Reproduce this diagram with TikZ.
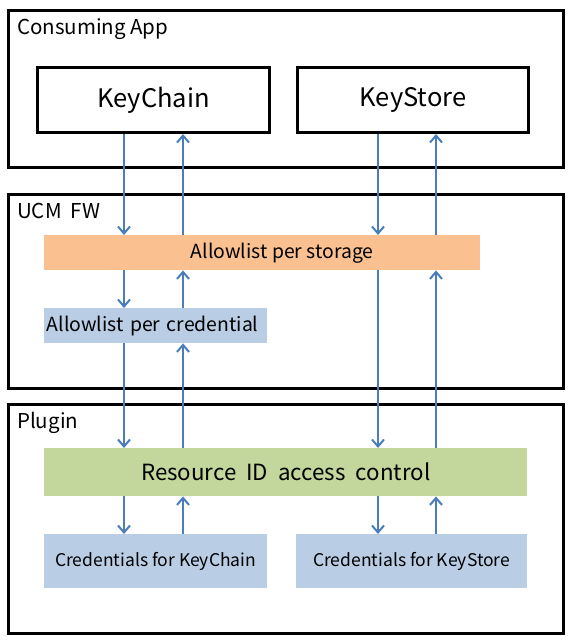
\documentclass[tikz,border=0pt]{standalone}
\usepackage{fontspec}
\setmainfont{Noto Sans CJK KR}
\usetikzlibrary{arrows,arrows.meta,shapes}
\definecolor{storagefill}{HTML}{FAC090}
\definecolor{credfill}{HTML}{B9CDE5}
\definecolor{ridfill}{HTML}{C3D69B}
\definecolor{flowblue}{HTML}{4A7EBB}
\tikzset{
  layer/.style = {draw=black, line width=3pt, anchor=north west, inner sep=0pt},
  layerlabel/.style = {anchor=base west, inner sep=0pt, font=\fontsize{20.5}{22}\selectfont},
  appbox/.style = {draw=black, line width=3pt, anchor=north west, inner sep=0pt,
    font=\fontsize{25.5}{27}\selectfont},
  fillbox/.style = {anchor=north west, inner sep=0pt, font=\fontsize{19.4}{21}\selectfont},
  flow/.style = {->, >={Straight Barb[length=7pt,width=12pt]}, draw=flowblue, line width=2pt},
}

\begin{document}
\begin{tikzpicture}[x=1pt,y=-1pt]
\useasboundingbox (0,0) rectangle (568,640);
% layers
\node [layer, minimum width=555, minimum height=157] (app) at (7,9) {};
\node [layer, minimum width=555, minimum height=194] (ucm) at (7,193) {};
\node [layer, minimum width=555, minimum height=229] (plugin) at (7,403) {};
\node [layerlabel] (applabel) at ([shift={(10,25)}]app.north west) {Consuming App};
\node [layerlabel] (ucmlabel) at ([shift={(10,25)}]ucm.north west) {UCM\ \ FW};
\node [layerlabel] (pluginlabel) at ([shift={(10,25)}]plugin.north west) {Plugin};
% boxes
\node [appbox, minimum width=232, minimum height=65] (kc) at (36,66) {KeyChain};
\node [appbox, minimum width=231, minimum height=65] (ks) at (296,66) {KeyStore};
\node [fillbox, fill=storagefill, minimum width=436, minimum height=35] (als) at (44,235)
  {\hspace*{40pt}Allowlist per storage};
\node [fillbox, fill=credfill, minimum width=223, minimum height=35, text width=218,
  align=left] (alc) at (44,308) {Allowlist per credential};
\node [fillbox, fill=ridfill, minimum width=483, minimum height=48,
  font=\fontsize{22.3}{24}\selectfont] (rid) at (44,448) {Resource\ \ ID\ \ access\ \ control};
\node [fillbox, fill=credfill, minimum width=223, minimum height=54,
  font=\fontsize{17.5}{19}\selectfont] (ckc) at (44,534) {Credentials for KeyChain};
\node [fillbox, fill=credfill, minimum width=231, minimum height=54,
  font=\fontsize{17.5}{19}\selectfont] (cks) at (296,534) {Credentials for KeyStore};
% arrow columns
\coordinate (down1) at (124,0);
\coordinate (up1) at (183,0);
\coordinate (down2) at (378,0);
\coordinate (up2) at (436,0);
\draw [flow] (kc.south -| down1) -- (als.north -| down1);
\draw [flow] (als.north -| up1) -- (kc.south -| up1);
\draw [flow] (ks.south -| down2) -- (als.north -| down2);
\draw [flow] (als.north -| up2) -- (ks.south -| up2);
\draw [flow] (als.south -| down1) -- (alc.north -| down1);
\draw [flow] (alc.north -| up1) -- (als.south -| up1);
\draw [flow] (alc.south -| down1) -- (rid.north -| down1);
\draw [flow] (rid.north -| up1) -- (alc.south -| up1);
\draw [flow] (als.south -| down2) -- (rid.north -| down2);
\draw [flow] (rid.north -| up2) -- (als.south -| up2);
\draw [flow] (rid.south -| down1) -- (ckc.north -| down1);
\draw [flow] (ckc.north -| up1) -- (rid.south -| up1);
\draw [flow] (rid.south -| down2) -- (cks.north -| down2);
\draw [flow] (cks.north -| up2) -- (rid.south -| up2);
\end{tikzpicture}
\end{document}
